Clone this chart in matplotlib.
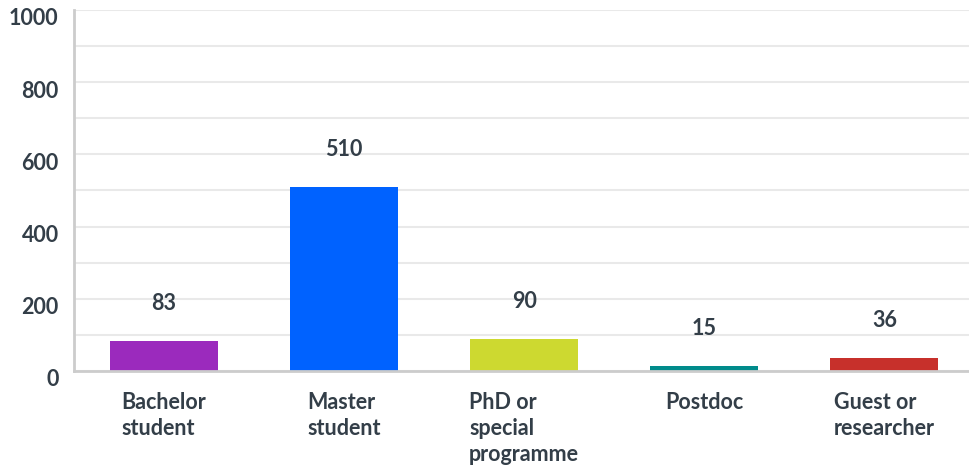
import matplotlib
matplotlib.use("Agg")
import matplotlib.pyplot as plt
from matplotlib.transforms import ScaledTranslation

categories = ["Bachelor\nstudent", "Master\nstudent", "PhD or\nspecial\nprogramme",
              "Postdoc", "Guest or\nresearcher"]
values = [83, 510, 90, 15, 36]
colors = ["#9b2abd", "#0062ff", "#cdd930", "#008b8b", "#c7302b"]
y_ticks = list(range(0, 1001, 100))
y_labels = [str(v) if v % 200 == 0 else "" for v in y_ticks]

text_color = "#333e48"
fs = 15.5
weight = "bold"
plt.rcParams["font.family"] = ["Lato", "DejaVu Sans"]

fig = plt.figure(figsize=(9.69, 4.68), dpi=100)
ax = fig.add_axes([74 / 969, 1 - 371 / 468, 1 - 74 / 969, 361 / 468])

x = list(range(len(categories)))
ax.bar(x, values, width=0.6, color=colors, zorder=3)

for xi, v in zip(x, values):
    ax.annotate(str(v), (xi, v), xytext=(0, 27.0), textcoords="offset points",
                ha="center", va="center", fontsize=fs, fontweight=weight,
                color=text_color)

ax.set_xlim(-0.5, 4.47)
ax.set_ylim(0, 1000)
ax.set_yticks(y_ticks)
ax.set_yticklabels(y_labels, fontsize=fs, fontweight=weight, color=text_color)
ax.set_xticks(x)
ax.set_xticklabels(categories, fontsize=fs, fontweight=weight, color=text_color,
                   multialignment="left", linespacing=1.3, va="top")
ax.tick_params(axis="both", length=0)
ax.tick_params(axis="x", pad=15)
ax.tick_params(axis="y", pad=11)

for lbl in ax.get_yticklabels():
    lbl.set_transform(lbl.get_transform() + ScaledTranslation(0, -0.07, fig.dpi_scale_trans))

ax.grid(axis="y", color="#e9e9e9", linewidth=1.5, zorder=0)
ax.grid(axis="x", visible=False)
for side in ("top", "right"):
    ax.spines[side].set_visible(False)
for side in ("left", "bottom"):
    ax.spines[side].set_color("#cccccc")
    ax.spines[side].set_linewidth(2)
    ax.spines[side].set_zorder(4)

fig.savefig("out.png", dpi=100)
